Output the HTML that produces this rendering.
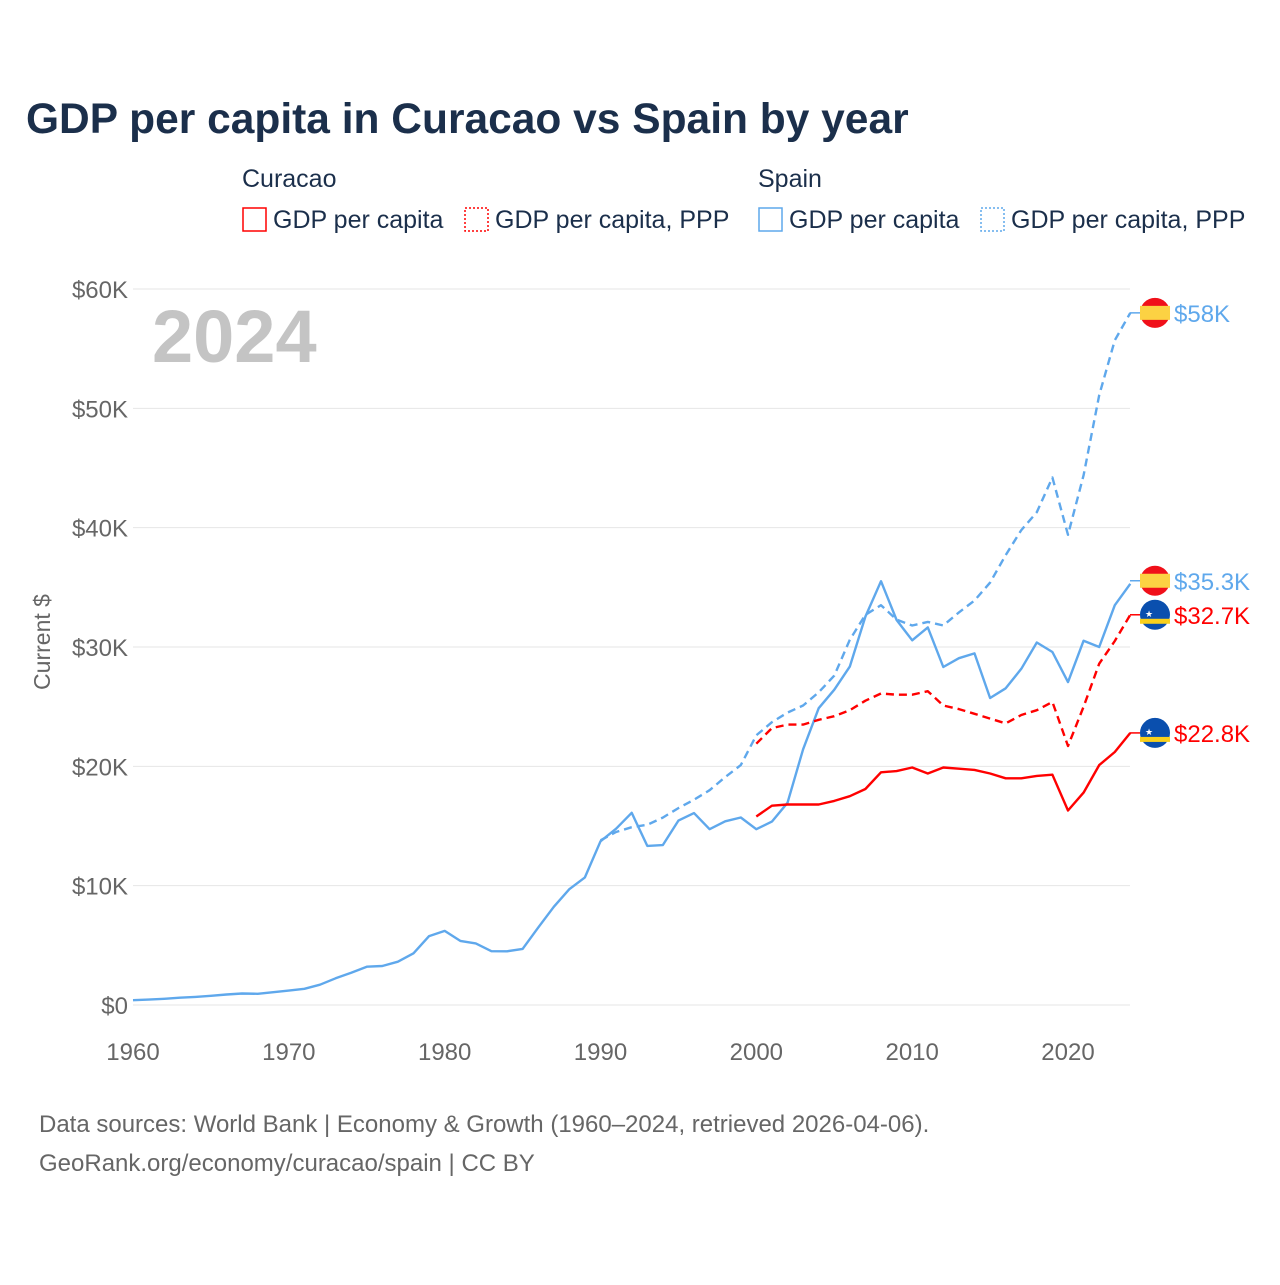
<!DOCTYPE html>
<html><head><meta charset="utf-8"><style>
body{margin:0;background:#fff;font-family:"Liberation Sans",sans-serif}
svg text{font-family:"Liberation Sans",sans-serif}
</style></head><body>
<svg width="1280" height="1280" viewBox="0 0 1280 1280" id="c">
<text x="26" y="133" font-size="42.5" font-weight="bold" fill="#1b2f4b">GDP per capita in Curacao vs Spain by year</text>
<g font-size="25" fill="#1b2f4b">
<text x="242" y="187">Curacao</text>
<text x="758" y="187">Spain</text>
<rect x="243" y="208" width="23" height="23" fill="none" stroke="#f00" stroke-width="1.5"/>
<text x="273" y="228">GDP per capita</text>
<rect x="465" y="208" width="23" height="23" fill="none" stroke="#f00" stroke-width="1.5" stroke-dasharray="2,2"/>
<text x="495" y="228">GDP per capita, PPP</text>
<rect x="759" y="208" width="23" height="23" fill="none" stroke="#5fa8ec" stroke-width="1.5"/>
<text x="789" y="228">GDP per capita</text>
<rect x="981" y="208" width="23" height="23" fill="none" stroke="#5fa8ec" stroke-width="1.5" stroke-dasharray="2,2"/>
<text x="1011" y="228">GDP per capita, PPP</text>
</g>
<text x="152" y="362" font-size="74" font-weight="bold" fill="#c4c4c4">2024</text>
<text transform="translate(50,642) rotate(-90)" text-anchor="middle" font-size="23" fill="#666">Current $</text>
<g id="grid"></g><g id="lines"></g><g id="labels"></g>
<text x="39" y="1132" font-size="24" fill="#666">Data sources: World Bank | Economy &amp; Growth (1960–2024, retrieved 2026-04-06).</text>
<text x="39" y="1171" font-size="24" fill="#666">GeoRank.org/economy/curacao/spain | CC BY</text>
</svg>
<script>
const yTicks=[0,10,20,30,40,50,60];
const yTickLabels=["$0","$10K","$20K","$30K","$40K","$50K","$60K"];
const xTicks=[1960,1970,1980,1990,2000,2010,2020];
const spainGdpStart=1960;
const spainGdp=[0.40,0.45,0.52,0.61,0.68,0.77,0.88,0.96,0.94,1.07,1.21,1.36,1.70,2.24,2.71,3.21,3.27,3.63,4.33,5.77,6.21,5.37,5.16,4.51,4.50,4.70,6.49,8.23,9.70,10.69,13.72,14.77,16.11,13.33,13.40,15.45,16.08,14.73,15.39,15.71,14.73,15.37,16.94,21.43,24.87,26.42,28.36,32.55,35.51,32.26,30.56,31.64,28.32,29.06,29.46,25.73,26.54,28.17,30.38,29.58,27.06,30.53,30.00,33.5,35.3];
const spainPppStart=1990;
const spainPpp=[13.8,14.5,14.9,15.1,15.7,16.5,17.2,18.0,19.1,20.1,22.6,23.7,24.5,25.1,26.2,27.6,30.6,32.7,33.5,32.3,31.8,32.1,31.8,32.9,33.9,35.4,37.7,39.8,41.3,44.2,39.4,44.4,51.1,55.7,58.0];
const curGdpStart=2000;
const curGdp=[15.8,16.7,16.8,16.8,16.8,17.1,17.5,18.1,19.5,19.6,19.9,19.4,19.9,19.8,19.7,19.4,19.0,19.0,19.2,19.3,16.3,17.8,20.1,21.2,22.8];
const curPppStart=2000;
const curPpp=[21.9,23.2,23.5,23.5,23.9,24.2,24.7,25.5,26.1,26.0,26.0,26.3,25.1,24.8,24.4,24.0,23.6,24.3,24.7,25.4,21.7,25.0,28.6,30.5,32.7];
const endLabels=["$58K","$35.3K","$32.7K","$22.8K"];

const X=y=>133+(y-1960)*(935/60);
const Y=v=>1005-v*(716/60);
const NS="http://www.w3.org/2000/svg";
function mk(t,a,p){const e=document.createElementNS(NS,t);for(const k in a)e.setAttribute(k,a[k]);p.appendChild(e);return e;}
const grid=document.getElementById('grid'),lines=document.getElementById('lines'),labels=document.getElementById('labels');
yTicks.forEach((v,i)=>{
 const l=mk('line',{x1:133,x2:1130,y1:Y(v),y2:Y(v),stroke:'#e6e6e6','stroke-width':1},grid);
 
 
 const t=mk('text',{x:128,y:Y(v)+9,'text-anchor':'end','font-size':24,fill:'#666'},grid);
 t.textContent=yTickLabels[i];
 
 
});
xTicks.forEach(v=>{
 const t=mk('text',{x:X(v),y:1060,'text-anchor':'middle','font-size':24,fill:'#666'},grid);
 t.textContent=v;
 
 
});
function series(arr,start,color,dash,name){
 const d=arr.map((v,i)=>(i?'L':'M')+X(start+i).toFixed(1)+','+Y(v).toFixed(1)).join(' ');
 const p=mk('path',{d:d,fill:'none',stroke:color,'stroke-width':2.4,'stroke-linejoin':'round'},lines);
 if(dash)p.setAttribute('stroke-dasharray','8,5');
 
 
}
series(spainGdp,spainGdpStart,'#5fa8ec',false,'line-spain-gdp');
series(spainPpp,spainPppStart,'#5fa8ec',true,'line-spain-ppp');
series(curGdp,curGdpStart,'#f00',false,'line-curacao-gdp');
series(curPpp,curPppStart,'#f00',true,'line-curacao-ppp');
const ends=[[spainPpp[spainPpp.length-1],'#5fa8ec','es'],[spainGdp[spainGdp.length-1],'#5fa8ec','es'],[curPpp[curPpp.length-1],'#f00','cw'],[curGdp[curGdp.length-1],'#f00','cw']];
ends.forEach((e,i)=>{
 const y=Y(e[0])-(i===1?3:0);
 const g=mk('g',{},labels);
 
 
 mk('line',{x1:1130,x2:1140,y1:y,y2:y,stroke:e[1],'stroke-width':1.5},g);
 if(e[2]==='es'){
  mk('circle',{cx:1155,cy:y,r:15,fill:'#f0101a'},g);
  mk('rect',{x:1140,y:y-7,width:30,height:14,fill:'#fcd243'},g);
 }else{
  mk('circle',{cx:1155,cy:y,r:15,fill:'#0a4fae'},g);
  mk('rect',{x:1140,y:y+4,width:30,height:5,fill:'#f9d01c'},g);
  mk('text',{x:1149,y:y+2,'font-size':9,fill:'#fff','text-anchor':'middle'},g).textContent='★';
 }
 const t=mk('text',{x:1174,y:y+9,'font-size':24,fill:e[1]},g);
 t.textContent=endLabels[i];
});
</script>
</body></html>
